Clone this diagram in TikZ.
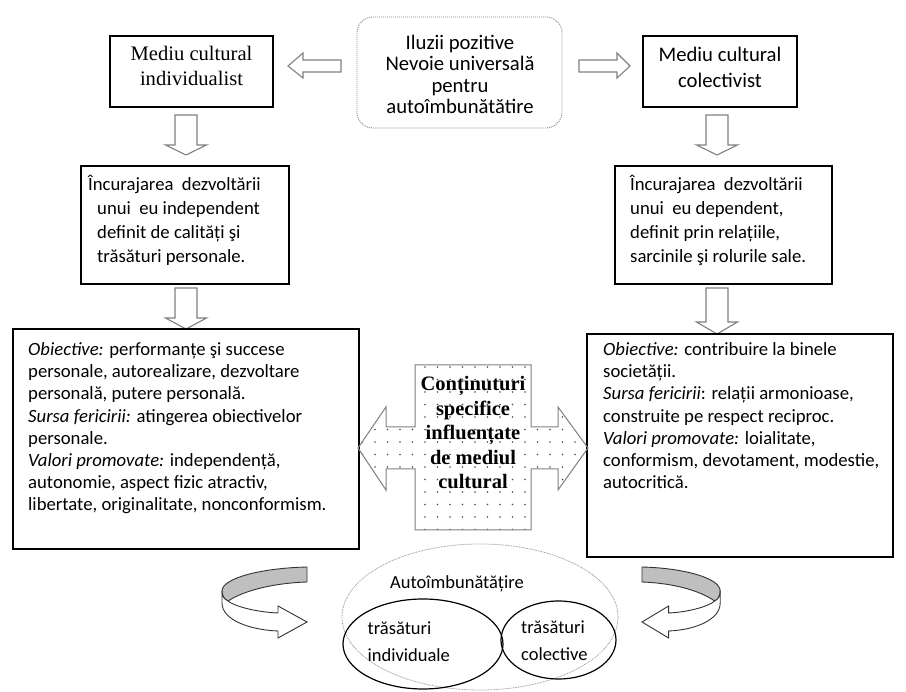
\documentclass[tikz,border=0pt]{standalone}
\usepackage{fontspec}
\setmainfont{Liberation Serif}
\newfontfamily\calib{Carlito}
\usetikzlibrary{patterns.meta,shapes.geometric}

% block arrow pointing down: centre x, shaft top, head base, tip
\newcommand\downblock[4]{%
  \draw[blockarrow] ({#1-11},#2) -- ({#1+11},#2) -- ({#1+11},#3) -- ({#1+20.5},#3)
    -- (#1,#4) -- ({#1-20.5},#3) -- ({#1-11},#3) -- cycle;}

% twisted ribbon arrow: tip x, signed horizontal scale (+ points right)
\newcommand\turnarrow[2]{%
  \draw[ribbonback] (#1,567) .. controls ({#1-45*#2},568) and ({#1-85*#2},578) .. ({#1-85*#2},591)
      .. controls ({#1-85*#2},596) and ({#1-83*#2},599) .. ({#1-79*#2},601)
      .. controls ({#1-62*#2},590) and ({#1-32*#2},583) .. (#1,582) -- cycle;
  \draw[ribbonfront] ({#1-85*#2},591) -- ({#1-85*#2},603)
      .. controls ({#1-85*#2},620) and ({#1-57*#2},630) .. ({#1-29*#2},631)
      -- ({#1-29*#2},638) -- (#1,622) -- ({#1-29*#2},606) -- ({#1-29*#2},613)
      .. controls ({#1-52*#2},612) and ({#1-73*#2},606) .. ({#1-79*#2},601)
      .. controls ({#1-83*#2},599) and ({#1-85*#2},596) .. ({#1-85*#2},591) -- cycle;}

\tikzset{
  frame/.style={draw=black, line width=1.2pt, rectangle, inner sep=0pt},
  blockarrow/.style={draw=black!50, line width=1.1pt, fill=white, line join=miter},
  serifhead/.style={font=\fontsize{20.6pt}{25pt}\selectfont, align=center, anchor=base, inner sep=0pt},
  sanshead/.style={font=\calib\fontsize{20.7pt}{26pt}\selectfont, align=center, anchor=base, inner sep=0pt},
  midtext/.style={font=\calib\fontsize{18.7pt}{24pt}\selectfont, align=left, anchor=base west, inner sep=0pt},
  bodytext/.style={font=\calib\fontsize{18.7pt}{22.2pt}\selectfont, align=left, anchor=base west, inner sep=0pt},
  crosstext/.style={font=\bfseries\fontsize{20.5pt}{24.5pt}\selectfont, align=center, anchor=base, inner sep=0pt},
  bottomtext/.style={font=\calib\fontsize{18.5pt}{27pt}\selectfont, inner sep=0pt},
  ribbonback/.style={draw=black!80, line width=0.9pt, fill=black!25},
  ribbonfront/.style={draw=black!80, line width=0.9pt, fill=white, line join=miter}
}

\begin{document}
\begin{tikzpicture}[x=1pt, y=-1pt]
\useasboundingbox[fill=white] (0,0) rectangle (906,692);

% ---- top row (multi-line texts are placed by the baseline of their last line) ----
\node[draw=black!45, line width=0.9pt, dash pattern=on 1pt off 1pt, rounded corners=16pt,
      minimum width=205pt, minimum height=111pt, inner sep=0pt] (illusions) at (459.5,72.5) {};
\node[sanshead, font=\calib\fontsize{20.7pt}{21.3pt}\selectfont] (illusionstxt) at (460,113.4)
  {Iluzii pozitive\\Nevoie universală\\pentru\\autoîmbunătătire};

\node[frame, minimum width=163pt, minimum height=71pt] (indiv) at (191.5,71.5) {};
\node[serifhead] (indivtxt) at (191.5,86) {Mediu cultural\\individualist};

\node[frame, minimum width=154pt, minimum height=71pt] (colect) at (720,71.5) {};
\node[sanshead] (colecttxt) at (720,87.5) {Mediu cultural\\colectivist};

% horizontal block arrows from the centre box
\draw[blockarrow] (341,60) -- (303,60) -- (303,53) -- (288,66) -- (303,78) -- (303,72) -- (341,72) -- cycle;
\draw[blockarrow] (579,60) -- (617,60) -- (617,53) -- (630,66) -- (617,78) -- (617,72) -- (579,72) -- cycle;

% first downward arrows
\downblock{186}{115}{145}{155}
\downblock{717}{115}{145}{155}

% ---- middle row ----
\node[frame, minimum width=208pt, minimum height=118pt] (indivself) at (185,225) {};
\node[midtext] (indivselftxt) at (88,262.5)
  {Încurajarea\ \ dezvoltării\\
   \hspace*{9pt}unui\ \ eu independent\\
   \hspace*{9pt}definit de calități şi\\
   \hspace*{9pt}trăsături personale.};

\node[frame, minimum width=217pt, minimum height=118pt] (colectself) at (723.5,225) {};
\node[midtext] (colectselftxt) at (630,262.5)
  {Încurajarea\ \ dezvoltării\\
   unui\ \ eu dependent,\\
   definit prin relațiile,\\
   sarcinile şi rolurile sale.};

% second downward arrows
\downblock{186}{288}{318}{329}
\downblock{717}{288}{322}{334}

% ---- large boxes ----
\node[frame, minimum width=346pt, minimum height=220pt] (indivgoals) at (186,439) {};
\node[bodytext] (indivgoalstxt) at (28,510.9)
  {\textit{Obiective:} performanțe şi succese\\
   personale, autorealizare, dezvoltare\\
   personală, putere personală.\\
   \textit{Sursa fericirii:} atingerea obiectivelor\\
   personale.\\
   \textit{Valori promovate:} independență,\\
   autonomie, aspect fizic atractiv,\\
   libertate, originalitate, nonconformism.};

\node[frame, minimum width=306pt, minimum height=223pt] (colectgoals) at (740,445.5) {};
\node[bodytext] (colectgoalstxt) at (603,488.7)
  {\textit{Obiective:} contribuire la binele\\
   societății.\\
   \textit{Sursa fericirii}: relații armonioase,\\
   construite pe respect reciproc.\\
   \textit{Valori promovate:} loialitate,\\
   conformism, devotament, modestie,\\
   autocritică.};

% ---- central cross with dotted fill ----
\draw[draw=black!50, line width=1pt, line join=miter,
      pattern={Dots[distance=12.5pt, radius=0.8pt]}, pattern color=black!70]
  (415,365) -- (531,365) -- (531,427) -- (558,427) -- (558,407) -- (588,448)
  -- (558,490) -- (558,469) -- (531,469) -- (531,530) -- (415,530) -- (415,469)
  -- (386,469) -- (386,490) -- (358,448) -- (386,407) -- (386,427) -- (415,427) -- cycle;
\node[crosstext] (crosstxt) at (473,489)
  {Conținuturi\\specifice\\influențate\\de mediul\\cultural};

% ---- bottom: self-improvement ----
\node[draw=black!40, line width=0.8pt, dash pattern=on 0.8pt off 0.8pt, ellipse,
      minimum width=276pt, minimum height=146pt, inner sep=0pt] (selfimp) at (480,617) {};
\node[bottomtext, anchor=base] (selfimptxt) at (457,588.5) {Autoîmbunătățire};

\node[draw=black, line width=1.2pt, ellipse, minimum width=160pt, minimum height=90pt,
      inner sep=0pt] (indivtraits) at (423,644) {};
\node[bottomtext, align=left, anchor=base west] (indivtraitstxt) at (367.5,661.5)
  {trăsături\\individuale};

\node[draw=black, line width=1.2pt, ellipse, minimum width=115pt, minimum height=78pt,
      inner sep=0pt] (colecttraits) at (558.5,640) {};
\node[bottomtext, align=left, anchor=base west] (colecttraitstxt) at (521,660)
  {trăsături\\colective};

% turning arrows towards the bottom ellipse
\turnarrow{307}{1}
\turnarrow{642}{-0.92}
\end{tikzpicture}
\end{document}
